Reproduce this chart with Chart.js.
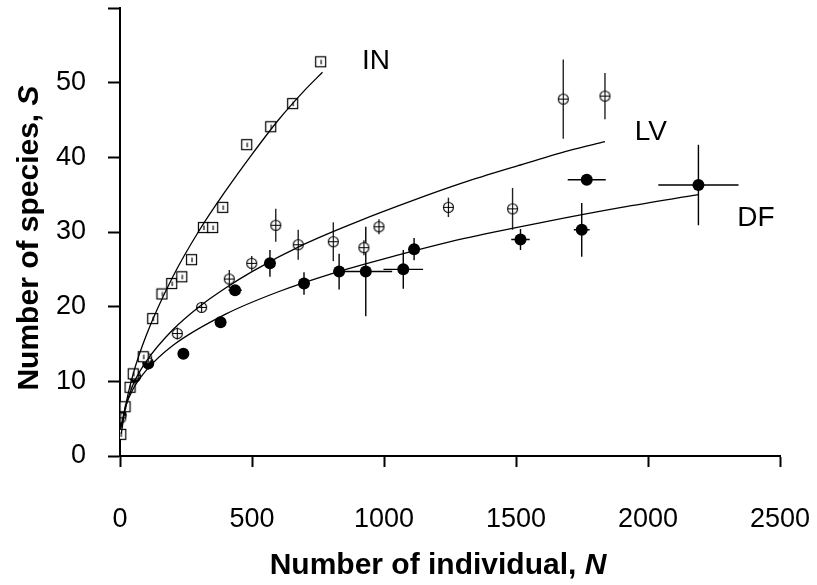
<!DOCTYPE html>
<html>
<head>
<meta charset="utf-8">
<script src="https://cdn.jsdelivr.net/npm/chart.js@4.4.1/dist/chart.umd.min.js"></script>
<style>
  html, body { margin: 0; padding: 0; background: #fff; }
  #wrap { width: 817px; height: 585px; }
</style>
</head>
<body>
<div id="wrap"><canvas id="chart"></canvas></div>
<script>
// axis ticks
const xTicks = [0, 500, 1000, 1500, 2000, 2500];
const yTicks = [0, 10, 20, 30, 40, 50, 60];

// IN - open squares
const inN = [3, 19, 38, 50, 88, 124, 159, 196, 234, 271, 316, 351, 389, 480, 571, 654, 760];
const inS = [2.9, 6.6, 9.2, 11.0, 13.3, 18.4, 21.7, 23.1, 24.0, 26.3, 30.6, 30.6, 33.3, 41.7, 44.1, 47.2, 52.8];

// LV - open circles with cross, vertical error bars
const lvN = [3, 57, 101, 217, 309, 414, 499, 590, 675, 808, 924, 981, 1244, 1487, 1679, 1837];
const lvS = [5.1, 10.8, 13.1, 16.4, 19.9, 23.7, 25.8, 30.9, 28.3, 28.7, 27.9, 30.7, 33.3, 33.1, 47.8, 48.2];
const lvErr = [0, 0, 0.8, 0.8, 0.6, 1.2, 1.0, 2.2, 2.0, 2.6, 1.0, 1.0, 1.3, 2.8, 5.3, 3.1];

// DF - filled circles, error bars both ways
const dfN = [3, 57, 107, 240, 381, 436, 568, 697, 830, 931, 1073, 1114, 1517, 1749, 1768, 2191];
const dfS = [5.5, 10.6, 12.4, 13.7, 17.9, 22.2, 25.8, 23.1, 24.7, 24.7, 25.0, 27.7, 29.0, 30.3, 37.0, 36.3];
const dfErrY = [0, 0, 0.8, 0, 0.5, 0.6, 1.8, 1.5, 2.4, 6.0, 2.6, 1.5, 1.4, 3.6, 0, 5.4];
const dfErrX = [0, 0, 0, 0, 0, 25, 0, 15, 0, 100, 75, 20, 35, 30, 72, 152];

// fitted curves
const inFitN = [5, 20, 50, 100, 200, 300, 400, 500, 600, 700, 767];
const inFitS = [3.0, 6.5, 11.0, 16.2, 24.0, 30.2, 35.5, 40.4, 45.0, 49.0, 51.4];
const lvFitN = [5, 20, 50, 100, 200, 300, 400, 500, 700, 900, 1100, 1300, 1500, 1700, 1837];
const lvFitS = [3.8, 6.4, 9.6, 12.7, 16.9, 20.0, 22.5, 24.7, 28.4, 31.4, 34.1, 36.6, 38.8, 40.9, 42.1];
const dfFitN = [5, 20, 50, 100, 200, 400, 600, 800, 1000, 1300, 1600, 1900, 2191];
const dfFitS = [4.0, 6.5, 9.0, 11.5, 14.8, 19.0, 22.0, 24.4, 26.4, 29.1, 31.3, 33.3, 35.0];

// series labels, placed in data coordinates
const seriesLabels = [
    { text: 'IN', x: 970, y: 52.8 },
    { text: 'LV', x: 2011, y: 43.3 },
    { text: 'DF', x: 2409, y: 31.9 }
];

const FONT = '"Liberation Sans", Arial, sans-serif';

function pts(xs, ys) {
    return xs.map((v, i) => ({ x: v, y: ys[i] }));
}

// open square marker with a small mark inside
function squareMarker() {
    const c = document.createElement('canvas');
    c.width = 13; c.height = 13;
    const g = c.getContext('2d');
    g.fillStyle = '#fff';
    g.fillRect(1, 1, 11, 11);
    g.strokeStyle = '#000';
    g.lineWidth = 1.2;
    g.strokeRect(1.5, 1.5, 10, 10);
    g.beginPath();
    g.moveTo(7, 4.5); g.lineTo(7, 9);
    g.stroke();
    return c;
}

// open circle with a cross
function circlePlusMarker() {
    const c = document.createElement('canvas');
    c.width = 13; c.height = 13;
    const g = c.getContext('2d');
    g.fillStyle = '#fff';
    g.strokeStyle = '#000';
    g.lineWidth = 1.1;
    g.beginPath();
    g.arc(6.5, 6.5, 5, 0, Math.PI * 2);
    g.fill(); g.stroke();
    g.beginPath();
    g.moveTo(1.5, 6.5); g.lineTo(11.5, 6.5);
    g.moveTo(6.5, 1.5); g.lineTo(6.5, 11.5);
    g.stroke();
    return c;
}

// draw error bars from the dataset's errX / errY arrays
const errorBars = {
    id: 'errorBars',
    beforeDatasetsDraw(chart) {
        const { ctx, scales: { x, y } } = chart;
        ctx.save();
        ctx.lineWidth = 1.4;
        chart.data.datasets.forEach(ds => {
            if (!ds.errY && !ds.errX) return;
            ctx.strokeStyle = ds.errColor || '#000';
            ds.data.forEach((p, i) => {
                const px = x.getPixelForValue(p.x);
                const py = y.getPixelForValue(p.y);
                const ey = ds.errY ? ds.errY[i] : 0;
                const ex = ds.errX ? ds.errX[i] : 0;
                ctx.beginPath();
                if (ey) {
                    ctx.moveTo(px, y.getPixelForValue(p.y + ey));
                    ctx.lineTo(px, y.getPixelForValue(p.y - ey));
                }
                if (ex) {
                    ctx.moveTo(x.getPixelForValue(p.x - ex), py);
                    ctx.lineTo(x.getPixelForValue(p.x + ex), py);
                }
                ctx.stroke();
            });
        });
        ctx.restore();
    }
};

// series names and axis titles (with italic symbol)
const annotations = {
    id: 'annotations',
    afterDraw(chart) {
        const { ctx, scales: { x, y }, chartArea } = chart;
        ctx.save();
        ctx.fillStyle = '#000';
        ctx.font = '28px ' + FONT;
        ctx.textAlign = 'center';
        ctx.textBaseline = 'middle';
        seriesLabels.forEach(l => {
            ctx.fillText(l.text, x.getPixelForValue(l.x), y.getPixelForValue(l.y));
        });

        const drawTitle = (main, sym, cx, cy, rot) => {
            ctx.save();
            ctx.translate(cx, cy);
            ctx.rotate(rot);
            ctx.textAlign = 'left';
            ctx.textBaseline = 'middle';
            const fMain = 'bold 30px ' + FONT;
            const fSym = 'italic bold 30px ' + FONT;
            ctx.font = fMain;
            const w1 = ctx.measureText(main).width;
            ctx.font = fSym;
            const w2 = ctx.measureText(sym).width;
            const start = -(w1 + w2) / 2;
            ctx.font = fMain;
            ctx.fillText(main, start, 0);
            ctx.font = fSym;
            ctx.fillText(sym, start + w1, 0);
            ctx.restore();
        };
        drawTitle('Number of individual, ', 'N', (chartArea.left + chartArea.right) / 2 - 12, 566, 0);
        drawTitle('Number of species, ', 'S', 30, (chartArea.top + chartArea.bottom) / 2 + 6, -Math.PI / 2);
        ctx.restore();
    }
};

const curve = (xs, ys) => ({
    type: 'line',
    data: pts(xs, ys),
    borderColor: '#000',
    borderWidth: 1.3,
    pointRadius: 0,
    fill: false,
    cubicInterpolationMode: 'monotone'
});

const ctx = document.getElementById('chart').getContext('2d');
new Chart(ctx, {
    type: 'scatter',
    data: {
        datasets: [
            curve(inFitN, inFitS),
            curve(lvFitN, lvFitS),
            curve(dfFitN, dfFitS),
            {
                label: 'IN',
                data: pts(inN, inS),
                pointStyle: squareMarker(),
                pointRadius: 6
            },
            {
                label: 'LV',
                data: pts(lvN, lvS),
                errY: lvErr,
                errColor: '#222',
                pointStyle: circlePlusMarker(),
                pointRadius: 6
            },
            {
                label: 'DF',
                data: pts(dfN, dfS),
                errY: dfErrY,
                errX: dfErrX,
                pointStyle: 'circle',
                pointRadius: 6,
                backgroundColor: '#000',
                borderColor: '#000',
                borderWidth: 0
            }
        ]
    },
    options: {
        responsive: true,
        maintainAspectRatio: false,
        animation: false,
        layout: { padding: { top: 8, right: 37, left: 0, bottom: 0 } },
        plugins: {
            legend: { display: false },
            tooltip: { enabled: false }
        },
        scales: {
            x: {
                type: 'linear',
                min: 0,
                max: 2500,
                afterBuildTicks: s => { s.ticks = xTicks.map(v => ({ value: v })); },
                afterFit: s => { s.height = 129; s.paddingLeft = 0; s.paddingRight = 0; },
                border: { color: '#000', width: 2 },
                grid: { drawOnChartArea: false, color: '#000', tickLength: 11, tickWidth: 2 },
                ticks: {
                    color: '#000',
                    padding: 36,
                    maxRotation: 0,
                    font: { family: FONT, size: 27 },
                    callback: v => String(v)
                }
            },
            y: {
                type: 'linear',
                min: 0,
                max: 60,
                afterBuildTicks: s => { s.ticks = yTicks.map(v => ({ value: v })); },
                afterFit: s => { s.width = 120; s.paddingTop = 0; s.paddingBottom = 0; },
                border: { color: '#000', width: 2 },
                grid: { drawOnChartArea: false, color: '#000', tickLength: 12, tickWidth: 2 },
                ticks: {
                    color: '#000',
                    padding: 22,
                    font: { family: FONT, size: 27 },
                    callback: v => (v === 60 ? '' : String(v))
                }
            }
        }
    },
    plugins: [errorBars, annotations]
});
</script>
</body>
</html>
